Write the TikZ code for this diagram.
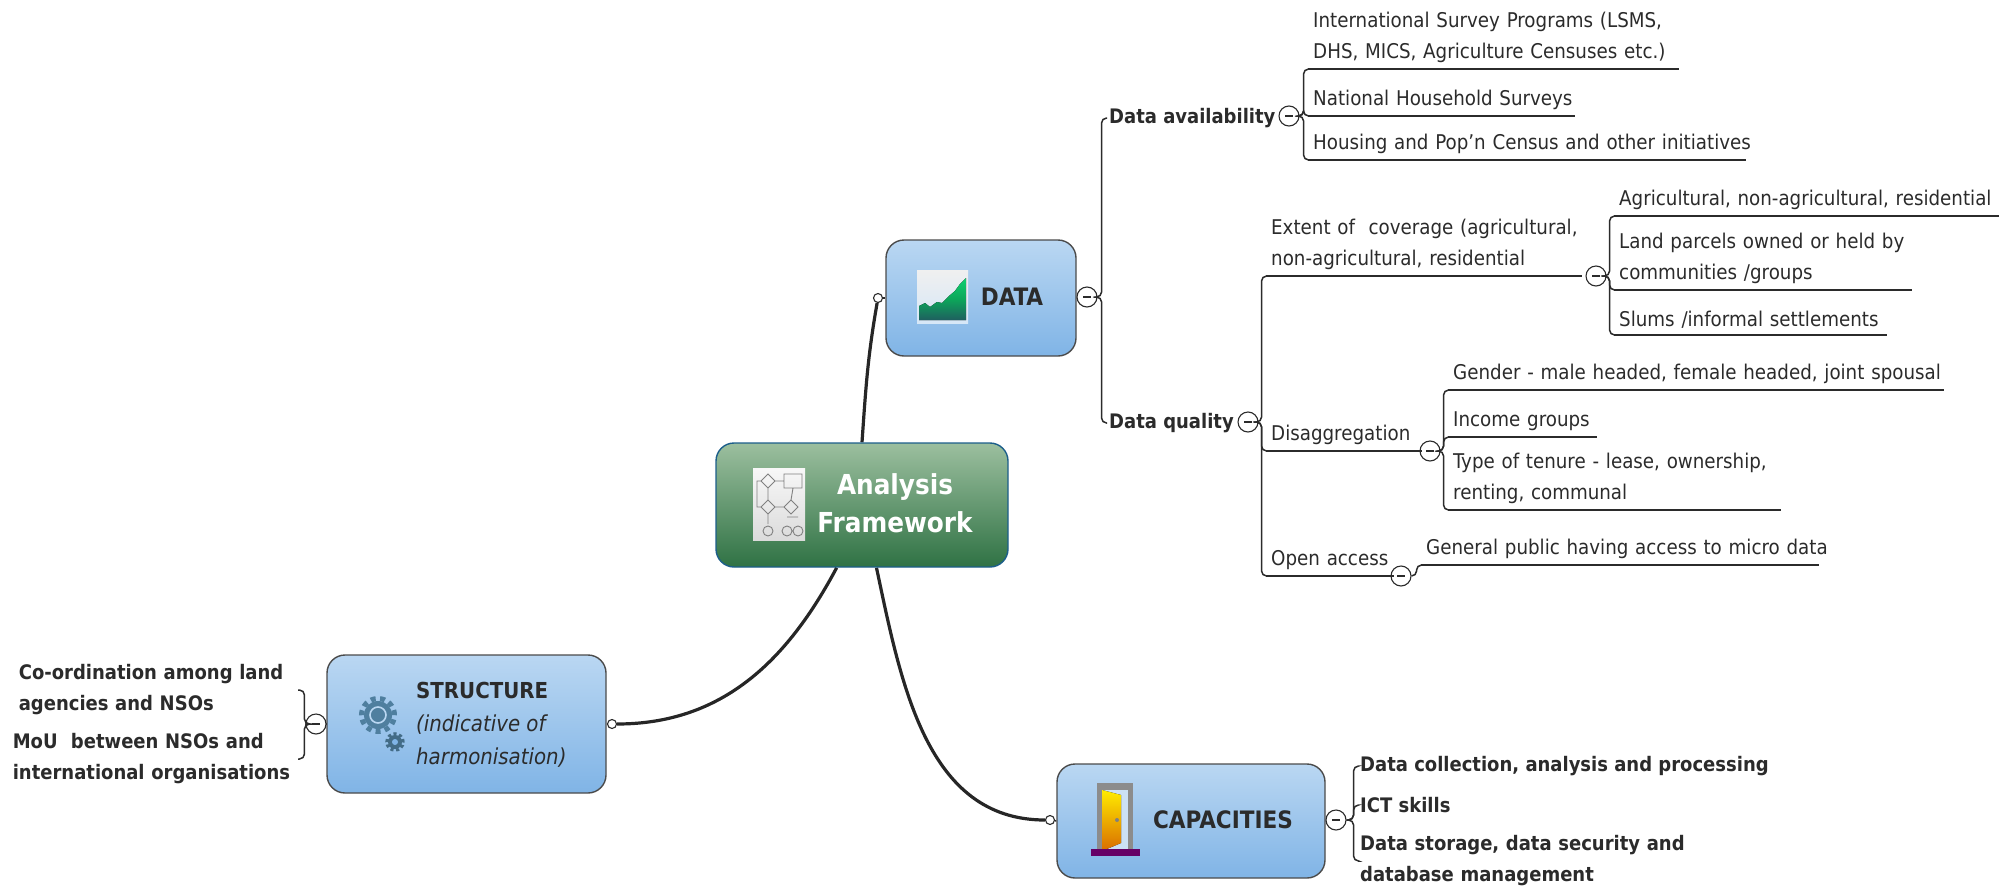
\documentclass[tikz,border=0pt]{standalone}
\usepackage{fontspec}
\setmainfont{DejaVu Sans Condensed}
\usetikzlibrary{positioning,backgrounds}

\definecolor{inkdark}{HTML}{2B2B2B}
\definecolor{boxtop}{HTML}{BAD7F2}
\definecolor{boxmid}{HTML}{80B4E6}
\definecolor{roottop}{HTML}{9CBF9F}
\definecolor{rootmid}{HTML}{2F7244}
\definecolor{rootline}{HTML}{1C5E8A}
\definecolor{gearblue}{HTML}{4F7F9F}
\definecolor{chartgreen}{HTML}{0FD070}
\definecolor{chartdark}{HTML}{1F5F5F}

\tikzset{
	topicbox/.style={draw=inkdark!85, line width=1.4pt, rounded corners=18pt, top color=boxtop, middle color=boxmid, bottom color=boxmid, inner sep=0pt},
	rootbox/.style={draw=rootline, line width=1.4pt, rounded corners=18pt, top color=roottop, middle color=rootmid, bottom color=rootmid, inner sep=0pt},
	topictext/.style={font=\fontsize{22}{34}\selectfont\bfseries, text=inkdark, align=left, inner sep=0pt},
	leaf/.style={anchor=south west, font=\fontsize{20.3}{31}\selectfont, text=inkdark, align=left, inner ysep=6pt, inner xsep=5pt,
		append after command={(\tikzlastnode.south west) edge [draw=inkdark, line width=2pt] (\tikzlastnode.south east)}},
	plain/.style={anchor=west, font=\fontsize{20}{31}\selectfont\bfseries, text=inkdark, align=left, inner xsep=2pt, inner ysep=0pt},
	collapse/.style={circle, draw=inkdark, fill=white, line width=1.1pt, minimum size=20pt, inner sep=0pt, path picture={\draw [line width=1.4pt, inkdark] (path picture bounding box.center) ++(-4pt,0) -- ++(8pt,0);}},
	linkdot/.style={circle, draw=inkdark, fill=white, line width=1.1pt, minimum size=9pt, inner sep=0pt},
	mainlink/.style={draw=black!85, line width=3.2pt},
	branch/.style={draw=inkdark, line width=1.5pt},
	fork/.style={rounded corners=5pt, to path={-- ++(#1,0) |- (\tikztotarget)}}
}

\begin{document}
\begin{tikzpicture}[x=1pt, y=-1pt]
	\useasboundingbox (0,0) rectangle (2013,889);

	\node [rootbox, minimum width=292pt, minimum height=124pt]	(Root)	at (862,505)	{};
	\node [font=\fontsize{27.5}{38}\selectfont\bfseries, text=white, align=center, inner sep=0pt]	(RootText)	at (895,503)	{Analysis\\Framework};

	\node [topicbox, minimum width=190pt, minimum height=116pt]	(Data)	at (981,298)	{};
	\node [topictext, font=\fontsize{24}{34}\selectfont\bfseries]	(DataText)	at (1012,297)	{DATA};
	\node [topicbox, minimum width=279pt, minimum height=138pt]	(Structure)	at (466.5,724)	{};
	\node [topictext, anchor=west]	(StructureText)	at (416,725)	{STRUCTURE\\[-1pt]\mdseries\itshape (indicative of\\[-1pt]\mdseries\itshape harmonisation)};
	\node [topicbox, minimum width=268pt, minimum height=114pt]	(Capacities)	at (1191,821)	{};
	\node [topictext, font=\fontsize{24}{34}\selectfont\bfseries]	(CapacitiesText)	at (1223,820)	{CAPACITIES};

	\node [linkdot]	(dotData)	at (878,298)	{};
	\node [linkdot]	(dotStructure)	at (612,724)	{};
	\node [linkdot]	(dotCapacities)	at (1050,820)	{};
	\node [collapse]	(cutData)	at (1087,297)	{};
	\node [collapse]	(cutStructure)	at (316,724)	{};
	\node [collapse]	(cutCapacities)	at (1336,820)	{};
	\node [collapse]	(cutAvail)	at (1289,116)	{};
	\node [collapse]	(cutQuality)	at (1248,422)	{};
	\node [collapse]	(cutExtent)	at (1596,276)	{};
	\node [collapse]	(cutDisagg)	at (1430,451)	{};
	\node [collapse]	(cutOpen)	at (1401,576)	{};

	\node [plain]	(Avail)		at (1107,118)	{Data availability};
	\node [plain]	(Quality)	at (1107,423)	{Data quality};
	\node [leaf, text width=361pt]	(Intl)	at (1308,69)	{\mbox{International Survey Programs (LSMS,}\\\mbox{DHS, MICS, Agriculture Censuses etc.)}};
	\node [leaf, text width=257pt]	(National)	at (1308,116)	{\mbox{National Household Surveys}};
	\node [leaf, text width=428pt]	(Housing)	at (1308,160)	{\mbox{Housing and Pop'n Census and other initiatives}};
	\node [leaf, text width=306pt]	(Extent)	at (1266,276)	{\mbox{Extent of~~coverage (agricultural,}\\\mbox{non-agricultural, residential}};
	\node [leaf, text width=146pt]	(Disagg)	at (1266,451)	{\mbox{Disaggregation}};
	\node [leaf, text width=118pt]	(Open)		at (1266,576)	{\mbox{Open access}};
	\node [leaf, text width=375pt]	(Agri)	at (1614,216)	{\mbox{Agricultural, non-agricultural, residential}};
	\node [leaf, text width=288pt]	(Land)	at (1614,290)	{\mbox{Land parcels owned or held by}\\\mbox{communities /groups}};
	\node [leaf, text width=263pt]	(Slums)	at (1614,335)	{\mbox{Slums /informal settlements}};
	\node [leaf, text width=486pt]	(Gender)	at (1448,390)	{\mbox{Gender - male headed, female headed, joint spousal}};
	\node [leaf, text width=139pt]	(Income)	at (1448,437)	{\mbox{Income groups}};
	\node [leaf, text width=323pt]	(Tenure)	at (1448,510)	{\mbox{Type of tenure - lease, ownership,}\\\mbox{renting, communal}};
	\node [leaf, text width=388pt]	(General)	at (1421,565)	{\mbox{General public having access to micro data}};

	\node [plain, anchor=east, inner xsep=0pt, text width=279pt]	(Coord)	at (298,690)	{Co-ordination among land\\agencies and NSOs};
	\node [plain, anchor=east, inner xsep=0pt, text width=285pt]	(MoU)	at (298,759)	{MoU~~between NSOs and\\international organisations};
	\node [plain]	(Collect)	at (1358,766)	{Data collection, analysis and processing};
	\node [plain]	(Skills)	at (1358,805)	{ICT skills};
	\node [plain, text width=400pt]	(Storage)	at (1358,861)	{Data storage, data security and\\database management};

	\begin{scope}[on background layer]
		\draw [mainlink]	(Root.north)	to [out=86, in=-100]	(dotData);
		\draw [mainlink]	(Root.-112)	to [out=-118, in=0]	(dotStructure);
		\draw [mainlink]	(Root.-77)	to [out=-78, in=180]	(dotCapacities);
		\draw [branch]	(dotData)	-- (Data.west);
		\draw [branch]	(dotStructure)	-- (Structure.east);
		\draw [branch]	(dotCapacities)	-- (Capacities.west);
		\draw [branch]	(Data.east)	-- (cutData);
		\draw [branch]	(Structure.west)	-- (cutStructure);
		\draw [branch]	(Capacities.east)	-- (cutCapacities);
	\end{scope}

	\path [branch]	(cutData.east)
		edge [fork=4]	(Avail.west)
		edge [fork=4]	(Quality.west);
	\path [branch]	(cutAvail.east)
		edge [fork=4]	(Intl.south west)
		edge [fork=4]	(National.south west)
		edge [fork=4]	(Housing.south west);
	\path [branch]	(cutQuality.east)
		edge [fork=3]	(Extent.south west)
		edge [fork=3]	(Disagg.south west)
		edge [fork=3]	(Open.south west);
	\path [branch]	(cutExtent.east)
		edge [fork=3]	(Agri.south west)
		edge [fork=3]	(Land.south west)
		edge [fork=3]	(Slums.south west);
	\path [branch]	(cutDisagg.east)
		edge [fork=3]	(Gender.south west)
		edge [fork=3]	(Income.south west)
		edge [fork=3]	(Tenure.south west);
	\path [branch]	(cutOpen.east)
		edge [fork=5]	(General.south west);
	\path [branch]	(cutStructure.west)
		edge [fork=-1]	(Coord.east)
		edge [fork=-1]	(MoU.east);
	\path [branch]	(cutCapacities.east)
		edge [fork=7]	(Collect.west)
		edge [fork=7]	(Skills.west)
		edge [fork=7]	(Storage.west);

	\fill [top color=black!3, bottom color=black!14]	(753,468) rectangle (805,540);
	\draw [black!50, line width=0.9pt]	(768,474) -- (775,481) -- (768,488) -- (761,481) -- cycle
		(768,500) -- (775,507) -- (768,514) -- (761,507) -- cycle
		(791,500) -- (798,507) -- (791,514) -- (784,507) -- cycle
		(784,474) rectangle (802,488)
		(775,481) -- (784,481) (775,507) -- (784,507) (768,488) -- (768,500) (793,488) -- (791,500)
		(761,481) -| (757,507) -- (761,507) (768,514) -- (768,524) (787,517) -- (798,517)
		(768,531) circle (5pt) (787,531) circle (5pt) (798,531) circle (5pt);

	\fill [top color=black!6, bottom color=boxtop!60]	(917,270) rectangle (968,323);
	\fill [top color=chartgreen, bottom color=chartdark, middle color=chartgreen!80!black]	(919,320) -- (919,306) -- (925,303) -- (930,307) -- (937,302) -- (942,303) -- (949,296) -- (955,291) -- (960,284) -- (966,278) -- (966,320) -- cycle;

	\fill [gearblue]	(378,715) circle (14pt);
	\draw [gearblue, line width=5pt, dash pattern=on 5pt off 4.4pt]	(378,715) circle (16.5pt);
	\draw [boxtop, line width=1.6pt]	(378,715) circle (8pt);
	\fill [gearblue!85!black]	(395,742) circle (7pt);
	\draw [gearblue!85!black, line width=3.5pt, dash pattern=on 3pt off 2.5pt]	(395,742) circle (8pt);
	\fill [boxmid]	(395,742) circle (3pt);

	\fill [black!45]	(1097,783) rectangle (1133,851);
	\fill [white!60!boxmid]	(1102,790) rectangle (1128,851);
	\fill [top color=yellow!85!orange, bottom color=orange!85!black]	(1102,790) -- (1121,795) -- (1121,843) -- (1102,851) -- cycle;
	\fill [black!50]	(1117,820) circle (2pt);
	\fill [violet!80!black]	(1091,849) rectangle (1140,856);
\end{tikzpicture}
\end{document}
